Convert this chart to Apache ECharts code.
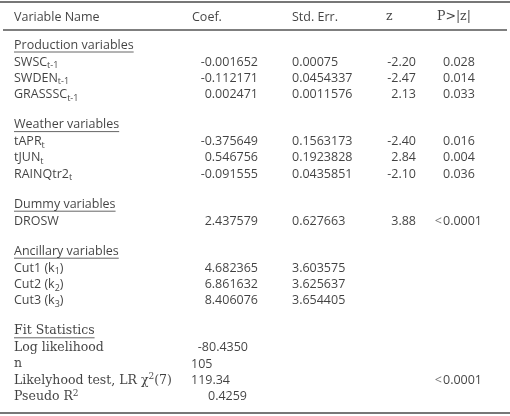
<!DOCTYPE html>
<html><head><meta charset="utf-8">
<script src="https://cdn.jsdelivr.net/npm/echarts@6/dist/echarts.min.js"></script>
<style>html,body{margin:0;padding:0;background:#fff}#c{width:510px;height:416px}</style>
</head><body><div id="c"></div>
<script>
// ---- data ----
const headers = ['Variable Name', 'Coef.', 'Std. Err.', 'z', 'P>|z|'];
const groupTitles = ['Production variables', 'Weather variables', 'Dummy variables', 'Ancillary variables', 'Fit Statistics'];
const groupSizes = [3, 3, 1, 3, 4];
const varNames = ['SWSC{sub|t-1}', 'SWDEN{sub|t-1}', 'GRASSSC{sub|t-1}',
  'tAPR{sub|t}', 'tJUN{sub|t}', 'RAINQtr2{sub|t}',
  'DROSW',
  'Cut1 (k{sub|1})', 'Cut2 (k{sub|2})', 'Cut3 (k{sub|3})',
  'Log likelihood', 'n', 'Likelyhood test, LR χ{sup|2}(7)', 'Pseudo R{sup|2}'];
const coef = ['-0.001652', '-0.112171', '0.002471', '-0.375649', '0.546756', '-0.091555', '2.437579',
  '4.682365', '6.861632', '8.406076', '-80.4350', '105', '119.34', '0.4259'];
const stdErr = ['0.00075', '0.0454337', '0.0011576', '0.1563173', '0.1923828', '0.0435851', '0.627663',
  '3.603575', '3.625637', '3.654405', '', '', '', ''];
const zVals = ['-2.20', '-2.47', '2.13', '-2.40', '2.84', '-2.10', '3.88', '', '', '', '', '', '', ''];
const pVals = ['0.028', '0.014', '0.033', '0.016', '0.004', '0.036', '<0.0001', '', '', '', '', '', '<0.0001', ''];

// ---- layout ----
const W = 510, H = 416;
const SANS = '"Open Sans", sans-serif';
const SERIF = '"DejaVu Serif", serif';
const FS = 12.5;
const TXT = '#111';
const nameX = 14, coefR = 258, seL = 292, zR = 416, pL = 443;
const fitCoefLayout = [{x: 248, a: 'right'}, {x: 191, a: 'left'}, {x: 191, a: 'left'}, {x: 247, a: 'right'}];
const headerX = [14, 192, 292, 386, 437];
const headerY = 17;

// compute row positions
const groupY = [], rowY = [], rowGroup = [];
let y = 45;
groupSizes.forEach((n, g) => {
  groupY.push(y);
  y += 17;
  for (let i = 0; i < n; i++) { rowY.push(y); rowGroup.push(g); if (i < n - 1) y += 16.3; }
  y += 30;
});

const rich = {
  m: {fontSize: FS, lineHeight: 16, verticalAlign: 'middle'},
  sub: {fontSize: 9, lineHeight: 9, verticalAlign: 'bottom'},
  sup: {fontSize: 9, lineHeight: 9, verticalAlign: 'top'}
};
function fmt(s) { return s.replace(/(^|\})([^{}]+)(?=\{|$)/g, (m, a, b) => a + '{m|' + b + '}'); }

function textSeries(items) {
  return {
    type: 'scatter', symbolSize: 0, silent: true, animation: false,
    data: items.map(it => {
      const r = it.rich ? JSON.parse(JSON.stringify(rich)) : undefined;
      if (r) Object.values(r).forEach(s => { s.fontFamily = it.f || SANS; s.color = TXT; });
      return {
        value: [it.x, it.y],
        label: {
          show: true, position: 'inside', align: it.a, verticalAlign: 'middle',
          offset: it.off || [0, 0],
          formatter: it.rich ? fmt(it.t) : it.t,
          fontFamily: it.f || SANS, fontSize: FS, color: it.c || TXT,
          rich: r
        }
      };
    })
  };
}

const items = [];
headers.forEach((h, i) => items.push({x: headerX[i], y: headerY, t: h, a: 'left', f: (i >= 3 ? SERIF : SANS)}));
groupTitles.forEach((g, i) => items.push({x: nameX, y: groupY[i], t: g, a: 'left', f: (i === 4 ? SERIF : SANS)}));
varNames.forEach((n, i) => {
  const fit = rowGroup[i] === 4;
  items.push({x: nameX, y: rowY[i], t: n, a: 'left', rich: true, f: fit ? SERIF : SANS});
});
coef.forEach((v, i) => {
  if (!v) return;
  if (rowGroup[i] === 4) {
    const L = fitCoefLayout[i - 10];
    items.push({x: L.x, y: rowY[i], t: v, a: L.a});
  } else items.push({x: coefR, y: rowY[i], t: v, a: 'right'});
});
stdErr.forEach((v, i) => { if (v) items.push({x: seL, y: rowY[i], t: v, a: 'left'}); });
zVals.forEach((v, i) => { if (v) items.push({x: zR, y: rowY[i], t: v, a: 'right'}); });
pVals.forEach((v, i) => {
  if (!v) return;
  if (v[0] === '<') {
    items.push({x: pL, y: rowY[i], t: '<', a: 'right', c: '#555', off: [-1, 0]});
    items.push({x: pL, y: rowY[i], t: v.slice(1), a: 'left'});
  } else items.push({x: pL, y: rowY[i], t: v, a: 'left'});
});

const chart = echarts.init(document.getElementById('c'), null, {renderer: 'canvas'});
const series = [textSeries(items)];

// measure underline widths
const cv = document.createElement('canvas').getContext('2d');
const graphic = [];
function hline(x1, x2, yy, w, c) {
  graphic.push({type: 'line', shape: {x1, y1: yy, x2, y2: yy}, style: {stroke: c, lineWidth: w}, silent: true});
}
hline(0, W, 2, 2, '#777');
hline(3, W - 3, 30, 1.5, '#555');
hline(0, W, 413, 2, '#777');
groupTitles.forEach((g, i) => {
  cv.font = FS + 'px ' + (i === 4 ? SERIF : SANS);
  const w = cv.measureText(g).width;
  hline(nameX, nameX + w, groupY[i] + 7, 1, '#666');
});

chart.setOption({
  animation: false,
  grid: {left: 0, right: 0, top: 0, bottom: 0},
  xAxis: {type: 'value', min: 0, max: W, show: false},
  yAxis: {type: 'value', min: 0, max: H, inverse: true, show: false},
  series,
  graphic
});
</script></body></html>
